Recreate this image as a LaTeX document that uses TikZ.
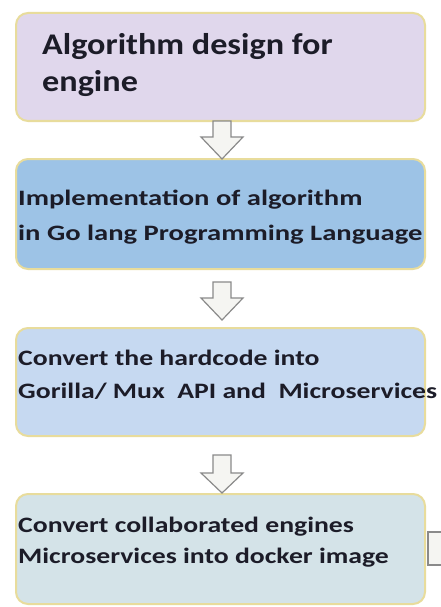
\documentclass[tikz,border=0pt]{standalone}
\usepackage{fontspec}
\setmainfont{Carlito}
\definecolor{boxA}{HTML}{E0D7EC}
\definecolor{boxB}{HTML}{9DC3E6}
\definecolor{boxC}{HTML}{C6D9F1}
\definecolor{boxD}{HTML}{D4E3E8}
\definecolor{rim}{HTML}{E8DC9C}
\definecolor{arrowline}{HTML}{8A8A8A}
\definecolor{arrowfill}{HTML}{F5F5F2}
\definecolor{ink}{HTML}{1C1C28}
\newcommand{\wideA}[1]{\scalebox{1.14}[1]{#1}}
\newcommand{\wideB}[1]{\scalebox{1.30}[1]{#1}}
\newcommand{\wideC}[1]{\scalebox{1.26}[1]{#1}}
\begin{document}
\begin{tikzpicture}[x=1pt,y=-1pt,
  stagebox/.style={draw=rim, line width=2pt, rounded corners=12pt, anchor=north west,
    minimum width=409pt, inner sep=0pt},
  bigtext/.style={anchor=base west, inner sep=0pt, text=ink, font=\bfseries\fontsize{30}{36}\selectfont},
  smalltext/.style={anchor=base west, inner sep=0pt, text=ink, font=\bfseries\fontsize{22}{26}\selectfont},
  blockarrow/.style={draw=arrowline, fill=arrowfill, line width=1.2pt, line join=miter}]
\useasboundingbox (0,0) rectangle (441,607);
\fill[white] (0,0) rectangle (441,607);
% boxes
\node[stagebox, fill=boxA, minimum height=108pt] (b1) at (15,12) {};
\node[stagebox, fill=boxB, minimum height=110pt] (b2) at (15,158) {};
\node[stagebox, fill=boxC, minimum height=108pt] (b3) at (15,327) {};
\node[stagebox, fill=boxD, minimum height=110pt] (b4) at (15,493) {};
% partial shape at right edge
\begin{scope}
\clip (0,0) rectangle (441,607);
\draw[draw=arrowline, fill=arrowfill, line width=1.2pt] (428,532) rectangle (450,565);
\end{scope}
% block arrows
\foreach \top/\neck/\tip in {121/137/159, 282/298/320, 455/473/493}{
  \draw[blockarrow] (213,\top) -- (231,\top) -- (231,\neck) -- (243,\neck) -- (222,\tip)
    -- (201,\neck) -- (213,\neck) -- cycle;
}
% texts
\node[bigtext] (t1a) at (42,55) {\wideA{Algorithm design for}};
\node[bigtext] (t1b) at (42,92) {\wideA{engine}};
\node[smalltext] (t2a) at (18,205) {\wideB{Implementation of algorithm}};
\node[smalltext] (t2b) at (18,240) {\wideB{in Go lang Programming Language}};
\node[smalltext] (t3a) at (18,365) {\wideC{Convert the hardcode into}};
\node[smalltext] (t3b) at (18,398) {\wideC{Gorilla/ Mux\ \ API and\ \ Microservices}};
\node[smalltext] (t4a) at (18,532) {\wideC{Convert collaborated engines}};
\node[smalltext] (t4b) at (18,563) {\wideC{Microservices into docker image}};
\end{tikzpicture}
\end{document}
